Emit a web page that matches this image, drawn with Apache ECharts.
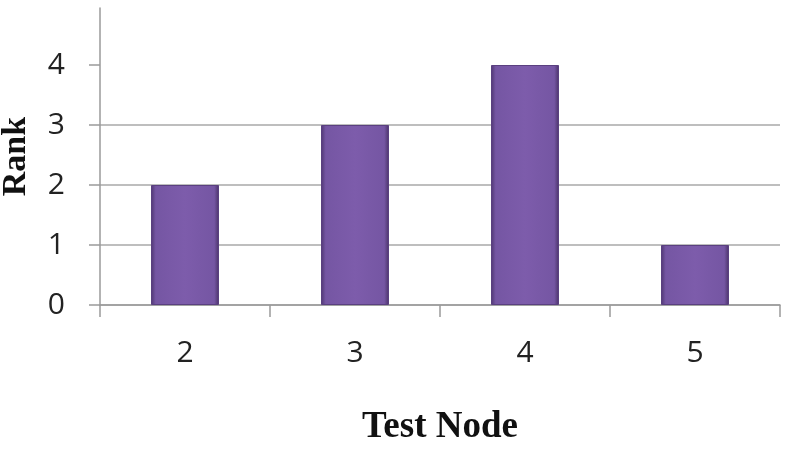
<!DOCTYPE html>
<html>
<head>
<meta charset="utf-8">
<script src="https://cdn.jsdelivr.net/npm/echarts@6/dist/echarts.min.js"></script>
<style>
  html, body { margin: 0; padding: 0; background: #fff; }
  #chart { width: 785px; height: 451px; }
</style>
</head>
<body>
<div id="chart"></div>
<script>
// test nodes and their rank
const nodes = ['2', '3', '4', '5']
const ranks = [2, 3, 4, 1]
const rankTicks = [0, 1, 2, 3, 4]

const chart = echarts.init(document.getElementById('chart'))

const barColor = new echarts.graphic.LinearGradient(0, 0, 1, 0, [
  { offset: 0, color: '#4f3672' },
  { offset: 0.07, color: '#7556a3' },
  { offset: 0.5, color: '#7d5cab' },
  { offset: 0.93, color: '#7556a3' },
  { offset: 1, color: '#4a3268' }
])

const option = {
  animation: false,
  backgroundColor: '#fff',
  grid: {
    left: 100,
    right: 5,
    top: 8,
    bottom: 146,
    outerBoundsMode: 'none'
  },
  xAxis: {
    type: 'category',
    data: nodes,
    name: 'Test Node',
    nameLocation: 'middle',
    nameGap: 104,
    nameTextStyle: {
      fontFamily: 'Liberation Serif',
      fontWeight: 'bold',
      fontSize: 37,
      color: '#111'
    },
    axisLine: { lineStyle: { color: '#9a9a9a', width: 1.5 } },
    axisTick: { show: true, length: 12, lineStyle: { color: '#9a9a9a', width: 1.5 } },
    axisLabel: {
      margin: 33,
      fontFamily: 'Open Sans',
      fontSize: 30,
      color: '#222'
    }
  },
  yAxis: {
    type: 'value',
    min: 0,
    max: 4.95,
    interval: 1,
    name: 'Rank',
    nameLocation: 'middle',
    nameRotate: 90,
    nameGap: 67,
    nameTextStyle: {
      fontFamily: 'Liberation Serif',
      fontWeight: 'bold',
      fontSize: 34,
      color: '#111'
    },
    axisLine: { show: true, lineStyle: { color: '#9a9a9a', width: 1.5 } },
    axisTick: {
      show: true,
      length: 11,
      customValues: rankTicks,
      lineStyle: { color: '#9a9a9a', width: 1.5 }
    },
    axisLabel: {
      customValues: rankTicks,
      margin: 35,
      fontFamily: 'Open Sans',
      fontSize: 30,
      color: '#222'
    },
    splitLine: {
      show: true,
      showMaxLine: false,
      lineStyle: { color: '#a8a8a8', width: 1.5 }
    }
  },
  series: [
    {
      type: 'bar',
      data: ranks,
      barWidth: '40%',
      itemStyle: {
        color: barColor,
        borderColor: '#5a4080',
        borderWidth: 1
      }
    }
  ]
}

chart.setOption(option)
</script>
</body>
</html>
